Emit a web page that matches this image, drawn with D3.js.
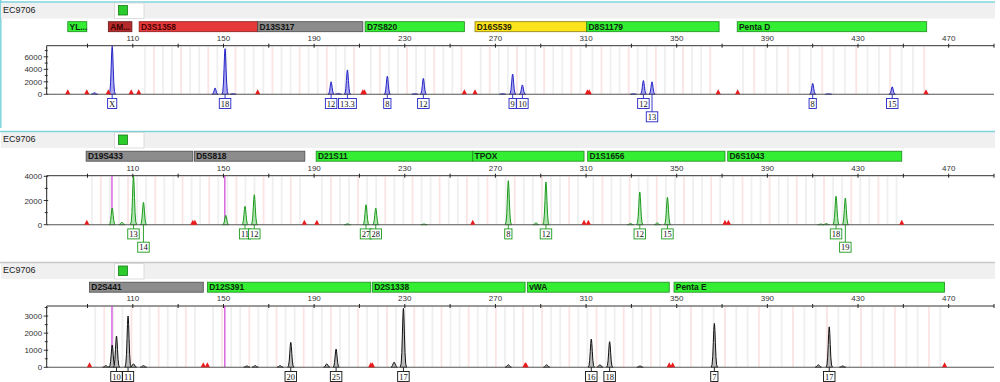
<!DOCTYPE html>
<html><head><meta charset="utf-8">
<script src="https://cdn.jsdelivr.net/npm/d3@7"></script>
<style>body{margin:0;background:#fff;} svg{display:block;font-family:"Liberation Sans",Arial,sans-serif;}</style>
</head><body><svg id="c" width="1000" height="382"></svg>
<script>
// ---------------- DATA ----------------
const sampleName = "EC9706";
const xTickValues = [90,110,130,150,170,190,210,230,250,270,290,310,330,350,370,390,410,430,450,470,490];
const xTickLabels = [110,150,190,230,270,310,350,390,430,470];

// Panel 1 (blue dye)
const p1MarkerNames  = ["YL...","AM...","D3S1358","D13S317","D7S820","D16S539","D8S1179","Penta D"];
const p1MarkerStart  = [81.3, 99.2, 112.8, 165.1, 212.5, 261.0, 310.3, 376.7];
const p1MarkerEnd    = [89.7, 109.6, 165.1, 211.5, 256.3, 310.3, 368.7, 460.3];
const p1MarkerStatus = ["pass","alert","fail","review","pass","check","pass","pass"];
const p1PeakBp   = [93.1, 100.9, 146.3, 150.7, 154.2, 197.5, 200.7, 204.7, 222.3, 234.5, 238.2, 273.2, 277.6, 281.9, 330.9, 335.3, 339.1, 410.0, 417.0, 445.1];
const p1PeakRfu  = [250, 7700, 1000, 7300, 100, 2000, 150, 3900, 2900, 80, 2550, 100, 3250, 1500, 80, 2200, 2000, 1750, 60, 1200];
const p1Alleles  = [null,"X",null,"18",null,"12",null,"13.3","8",null,"12",null,"9","10",null,"12","13","8",null,"15"];
const p1LabelRow = [0,0,0,0,0,0,0,0,0,0,0,0,0,0,0,0,1,0,0,0];
const p1Flags    = [81.3, 89.7, 99.2, 109.3, 112.6, 165.1, 211.5, 212.2, 256.3, 261.0, 310.6, 311.4, 368.3, 376.9, 460.0];
const p1YTicks   = [0, 2000, 4000, 6000];

// Panel 2 (green dye)
const p2MarkerNames  = ["D19S433","D5S818","D21S11","TPOX","D1S1656","D6S1043"];
const p2MarkerStart  = [89.4, 137.2, 190.9, 260.0, 310.7, 372.5];
const p2MarkerEnd    = [136.5, 185.9, 260.0, 309.1, 371.3, 449.3];
const p2MarkerStatus = ["review","review","pass","pass","pass","pass"];
const p2PeakBp   = [100.9, 105.2, 110.3, 114.7, 151.0, 159.5, 163.6, 204.7, 212.9, 217.2, 238.5, 275.7, 287.9, 292.3, 329.6, 333.7, 341.4, 345.9, 413.6, 416.0, 420.3, 424.4];
const p2PeakRfu  = [1380, 200, 4000, 1850, 780, 1520, 2480, 80, 1650, 1380, 60, 3640, 150, 3530, 100, 2700, 150, 2260, 60, 100, 2350, 2200];
const p2Alleles  = [null,null,"13","14",null,"11","12",null,"27","28",null,"8",null,"12",null,"12",null,"15",null,null,"18","19"];
const p2LabelRow = [0,0,0,1,0,0,0,0,0,0,0,0,0,0,0,0,0,0,0,0,0,1];
const p2Flags    = [89.7, 136.5, 137.4, 185.7, 191.2, 260.0, 309.1, 311.0, 371.3, 372.8, 449.3];
const p2YTicks   = [0, 2000, 4000];

// Panel 3 (black dye)
const p3MarkerNames  = ["D2S441","D12S391","D2S1338","vWA","Penta E"];
const p3MarkerStart  = [90.9, 142.9, 215.7, 284.1, 348.8];
const p3MarkerEnd    = [141.1, 215.0, 283.1, 346.7, 468.2];
const p3MarkerStatus = ["review","pass","pass","pass","pass"];
const p3PeakBp   = [98.1, 100.9, 102.8, 107.9, 110.3, 114.7, 160.3, 164.0, 175.0, 179.7, 195.6, 199.7, 225.3, 229.4, 275.7, 292.6, 312.3, 316.1, 320.4, 333.8, 366.6, 412.5, 417.3, 423.2];
const p3PeakRfu  = [100, 1300, 1830, 3000, 200, 100, 80, 100, 100, 1460, 200, 1070, 300, 3450, 150, 150, 1650, 150, 1500, 80, 2570, 150, 2370, 80];
const p3Alleles  = [null,null,"10","11",null,null,null,null,null,"20",null,"25",null,"17",null,null,"16",null,"18",null,"7",null,"17",null];
const p3LabelRow = [0,0,0,0,0,0,0,0,0,0,0,0,0,0,0,0,0,0,0,0,0,0,0,0];
const p3Flags    = [90.9, 141.1, 142.9, 215.0, 215.7, 283.1, 283.5, 346.7, 348.2, 468.2];
const p3YTicks   = [0, 1000, 2000, 3000];

const offScaleBp = [100.8, 150.6];

// ---------------- STYLE / LAYOUT ----------------
const statusFill = {pass:"#33ee33", alert:"#b52b2b", fail:"#e63a3a", review:"#8c8c8c", check:"#fbe41c"};
const statusStroke = {pass:"#1f8a1f", alert:"#6a1414", fail:"#8a1a1a", review:"#4a4a4a", check:"#8a7a10"};
const statusText = {pass:"#0b2a0b", alert:"#3a0000", fail:"#4a0000", review:"#111", check:"#2a2200"};

const panels = [
  {top:2, axisY:45.7, baseY:94.3, yMax:7780, minor:1000, cyan:true,
   names:p1MarkerNames, starts:p1MarkerStart, ends:p1MarkerEnd, status:p1MarkerStatus,
   bp:p1PeakBp, rfu:p1PeakRfu, alleles:p1Alleles, rows:p1LabelRow, flags:p1Flags, yTicks:p1YTicks,
   stroke:"#2424c4", fill:"#aaa6f0", offscale:false},
  {top:131.5, axisY:175.7, baseY:224.7, yMax:4050, minor:1000, cyan:true,
   names:p2MarkerNames, starts:p2MarkerStart, ends:p2MarkerEnd, status:p2MarkerStatus,
   bp:p2PeakBp, rfu:p2PeakRfu, alleles:p2Alleles, rows:p2LabelRow, flags:p2Flags, yTicks:p2YTicks,
   stroke:"#1c9a1c", fill:"#b0e4b0", offscale:true},
  {top:262.5, axisY:306, baseY:367.3, yMax:3590, minor:500, cyan:false,
   names:p3MarkerNames, starts:p3MarkerStart, ends:p3MarkerEnd, status:p3MarkerStatus,
   bp:p3PeakBp, rfu:p3PeakRfu, alleles:p3Alleles, rows:p3LabelRow, flags:p3Flags, yTicks:p3YTicks,
   stroke:"#111", fill:"#bcbcbc", offscale:true}
];

const svg = d3.select("#c");
const x = d3.scaleLinear().domain([72, 490]).range([46.7, 994]);
const X0 = x.range()[0], X1 = x.range()[1];

// left cyan frame for panel 1
svg.append("line").attr("x1",0.8).attr("x2",0.8).attr("y1",0).attr("y2",128)
   .attr("stroke","#7fd3dc").attr("stroke-width",1.5);

panels.forEach((P, pi) => {
  const g = svg.append("g");
  const y = d3.scaleLinear().domain([0, P.yMax]).range([P.baseY, P.axisY]);

  // header strip
  g.append("rect").attr("x",1).attr("y",P.top+0.5).attr("width",994).attr("height",16)
    .attr("fill","#f0f0f0");
  g.append("line").attr("x1",0).attr("x2",995).attr("y1",P.top).attr("y2",P.top)
    .attr("stroke", P.cyan ? "#7fd3dc" : "#c8c8c8").attr("stroke-width", 1.5);
  g.append("text").attr("x",3).attr("y",P.top+10.5).attr("font-size",9).attr("fill","#222").text(sampleName);
  g.append("rect").attr("x",114.5).attr("y",P.top+1).attr("width",29.5).attr("height",15.5)
    .attr("fill","#fff").attr("stroke","#d4d4d4").attr("stroke-width",0.8);
  g.append("rect").attr("x",118.5).attr("y",P.top+3.5).attr("width",9).attr("height",9.5)
    .attr("fill","#2ccc2c").attr("stroke","#167a16").attr("stroke-width",0.8);

  // marker bars
  const mb = P.top + 19.7;
  P.names.forEach((n, i) => {
    const x0 = x(P.starts[i]), x1 = x(P.ends[i]);
    g.append("rect").attr("x",x0).attr("y",mb).attr("width",x1-x0).attr("height",10)
      .attr("fill",statusFill[P.status[i]]).attr("stroke",statusStroke[P.status[i]]).attr("stroke-width",0.8);
    g.append("text").attr("x",x0+1.8).attr("y",mb+8).attr("font-size",8.4).attr("font-weight","bold")
      .attr("fill",statusText[P.status[i]]).text(n);
  });

  // bins (light vertical guide lines inside each locus)
  const binG = g.append("g");
  P.names.forEach((n, i) => {
    const step = n.startsWith("Penta") ? 5 : 4;
    if (P.ends[i] - P.starts[i] < 12) return;
    d3.range(P.starts[i] + 2.5, P.ends[i] - 0.5, step).forEach((b, k) => {
      binG.append("line").attr("x1",x(b)).attr("x2",x(b)).attr("y1",P.axisY+1).attr("y2",P.baseY)
        .attr("stroke", k % 3 === 1 ? "#fbe4e4" : "#efefef").attr("stroke-width",1.8);
    });
  });

  // x axis (top)
  g.append("line").attr("x1",X0).attr("x2",X1).attr("y1",P.axisY).attr("y2",P.axisY)
    .attr("stroke","#333").attr("stroke-width",1);
  xTickValues.forEach(v => {
    g.append("line").attr("x1",x(v)).attr("x2",x(v)).attr("y1",P.axisY-2).attr("y2",P.axisY+2)
      .attr("stroke","#222").attr("stroke-width",1);
  });
  xTickLabels.forEach(v => {
    g.append("text").attr("x",x(v)).attr("y",P.axisY-5).attr("text-anchor","middle")
      .attr("font-size",8).attr("fill","#333").text(v);
  });

  // y axis
  g.append("line").attr("x1",X0).attr("x2",X0).attr("y1",P.axisY).attr("y2",P.baseY)
    .attr("stroke","#222").attr("stroke-width",1);
  d3.range(0, P.yMax, P.minor).forEach(v => {
    const major = P.yTicks.includes(v);
    g.append("line").attr("x1",X0-(major?3:2)).attr("x2",X0+(major?1.5:1)).attr("y1",y(v)).attr("y2",y(v))
      .attr("stroke","#222").attr("stroke-width",0.9);
  });
  P.yTicks.forEach(v => {
    g.append("text").attr("x",X0-4.5).attr("y",y(v)+3).attr("text-anchor","end")
      .attr("font-size",8).attr("fill","#333").text(v);
  });

  // clip for peaks
  const cid = "clip" + pi;
  svg.append("clipPath").attr("id",cid).append("rect")
    .attr("x",X0).attr("y",P.axisY).attr("width",X1-X0).attr("height",P.baseY-P.axisY+1);
  const pg = g.append("g").attr("clip-path",`url(#${cid})`);

  // off-scale marker lines
  if (P.offscale) offScaleBp.forEach(b => {
    pg.append("line").attr("x1",x(b)).attr("x2",x(b)).attr("y1",P.axisY).attr("y2",P.baseY)
      .attr("stroke","#d040d8").attr("stroke-width",1.2);
  });

  // baseline
  g.append("line").attr("x1",X0).attr("x2",X1).attr("y1",P.baseY).attr("y2",P.baseY)
    .attr("stroke","#555").attr("stroke-width",1.1);

  // peaks
  const offs = [-1.4,-1.0,-0.7,-0.45,-0.25,-0.1,0,0.1,0.25,0.45,0.7,1.0,1.4];
  const area = d3.area().x(d => x(d[0])).y0(P.baseY).y1(d => y(d[1]));
  P.bp.forEach((b, i) => {
    const h = P.rfu[i];
    const sig = h > 600 ? 0.42 : 0.5;
    const pts = offs.map(o => [b + o, h * Math.exp(-(o*o)/(2*sig*sig))]);
    pg.append("path").datum(pts).attr("d", area)
      .attr("fill", P.fill).attr("stroke", P.stroke).attr("stroke-width", 1);
  });

  // flags (red triangles)
  P.flags.forEach(b => {
    const cx = x(b);
    g.append("path").attr("d",`M${cx-2.6},${P.baseY} L${cx},${P.baseY-5} L${cx+2.6},${P.baseY} Z`)
      .attr("fill","#e81c1c");
  });

  // allele labels
  P.bp.forEach((b, i) => {
    const a = P.alleles[i];
    if (a == null) return;
    const cx = x(b);
    const by = P.baseY + (P.rows[i] ? 17.5 : 4.2);
    g.append("line").attr("x1",cx).attr("x2",cx).attr("y1",P.baseY).attr("y2",by)
      .attr("stroke",P.stroke).attr("stroke-width",0.9);
    const t = g.append("text").attr("x",cx).attr("y",by+8).attr("text-anchor","middle")
      .attr("font-family","'Liberation Serif',serif").attr("font-size",8.5).attr("fill","#111").text(a);
    const w = t.node().getComputedTextLength() + 3;
    g.insert("rect", () => t.node()).attr("x",cx-w/2).attr("y",by).attr("width",w).attr("height",10)
      .attr("fill","#fff").attr("stroke",P.stroke).attr("stroke-width",0.9);
  });
});
</script>
</body></html>
